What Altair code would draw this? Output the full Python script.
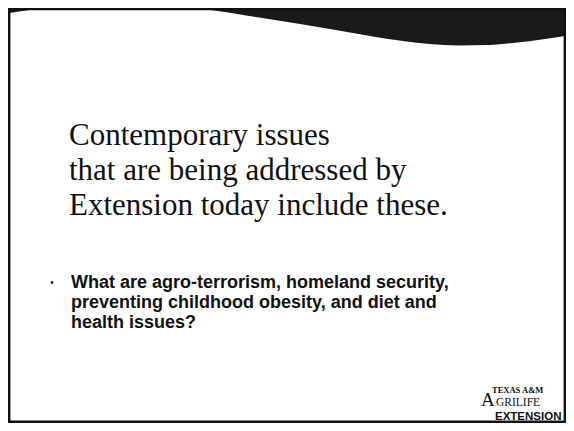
import altair as alt
import pandas as pd

# ---- content ----
title_lines = ["Contemporary issues", "that are being addressed by", "Extension today include these."]
bullet_lines = ["What are agro-terrorism, homeland security,",
                "preventing childhood obesity, and diet and",
                "health issues?"]
logo_top = "TEXAS A&M"
logo_big = "A"
logo_mid = "GRILIFE"
logo_bot = "EXTENSION"

# decorative banner edge (page pixels)
wave_x = [0, 30, 70, 110, 160, 210, 256, 300, 330, 370, 403, 430, 458, 490, 513, 545, 574]
wave_y = [14.5, 10, 6.5, 5, 6, 10, 17, 24, 29, 36, 41, 44, 45.5, 45, 43, 39, 34.5]

# ---- layout (page pixel coordinates; plot area starts at the 8px page margin) ----
X0, X1, Y0, Y1 = 8, 566, 8, 423
title_x, title_y, title_lh = 69, 145, 35
bullet_x, bullet_y, bullet_lh = 71, 287.5, 20.2
bullet_dot = (52, 282.5)

xs = alt.Scale(domain=[X0, X1], nice=False, zero=False)
ys = alt.Scale(domain=[Y0, Y1], nice=False, zero=False, reverse=True)
X = lambda f="x": alt.X(f"{f}:Q", scale=xs, axis=None)
Y = lambda f="y": alt.Y(f"{f}:Q", scale=ys, axis=None)

wave = pd.DataFrame({"x": wave_x, "y": wave_y, "top": [0] * len(wave_x)})
banner = alt.Chart(wave).mark_area(color="#1a1a1a", interpolate="monotone", clip=True).encode(
    x=X(), y=Y(), y2="top:Q")

frame = alt.Chart(pd.DataFrame({"x": [X0 + 1.2], "x2": [X1 - 1.2], "y": [Y0 + 1], "y2": [Y1 - 1.2]})).mark_rect(
    fill="transparent", stroke="#111", strokeWidth=2.4).encode(x=X(), x2="x2:Q", y=Y(), y2="y2:Q")

tdf = pd.DataFrame({"t": ["\n".join(title_lines)], "x": [title_x], "y": [title_y]})
title = alt.Chart(tdf).mark_text(font="Liberation Serif", fontSize=31, align="left", lineBreak="\n",
                                 lineHeight=title_lh, baseline="alphabetic", color="#111").encode(
    x=X(), y=Y(), text="t:N")

bdf = pd.DataFrame({"t": ["\n".join(bullet_lines)], "x": [bullet_x], "y": [bullet_y]})
bullets = alt.Chart(bdf).mark_text(font="Liberation Sans", fontSize=18, fontWeight="bold", align="left",
                                   lineBreak="\n", lineHeight=bullet_lh, baseline="alphabetic",
                                   color="#111").encode(x=X(), y=Y(), text="t:N")

dot = alt.Chart(pd.DataFrame({"t": ["•"], "x": [bullet_dot[0]], "y": [bullet_dot[1]]})).mark_text(
    font="Liberation Sans", fontSize=10, align="center", baseline="middle", color="#111").encode(
    x=X(), y=Y(), text="t:N")


def logo_text(txt, x, y, size, font, weight="normal"):
    return alt.Chart(pd.DataFrame({"t": [txt], "x": [x], "y": [y]})).mark_text(
        font=font, fontSize=size, fontWeight=weight, align="left", baseline="alphabetic",
        color="#111").encode(x=X(), y=Y(), text="t:N")


logo1 = logo_text(logo_top, 492, 393, 8.5, "Liberation Serif", "bold")
logoA = logo_text(logo_big, 481, 406, 19, "Liberation Serif")
logo2 = logo_text(logo_mid, 496, 406, 11.5, "Liberation Serif")
logo3 = logo_text(logo_bot, 495, 420, 11.5, "Liberation Sans", "bold")

chart = alt.layer(banner, frame, title, bullets, dot, logo1, logoA, logo2, logo3).properties(
    width=X1 - X0, height=Y1 - Y0, autosize=alt.AutoSizeParams(type="none"), padding=0,
    background="white").configure_view(stroke=None)

chart.save("out.html", embed_options={"renderer": "svg", "actions": False})
